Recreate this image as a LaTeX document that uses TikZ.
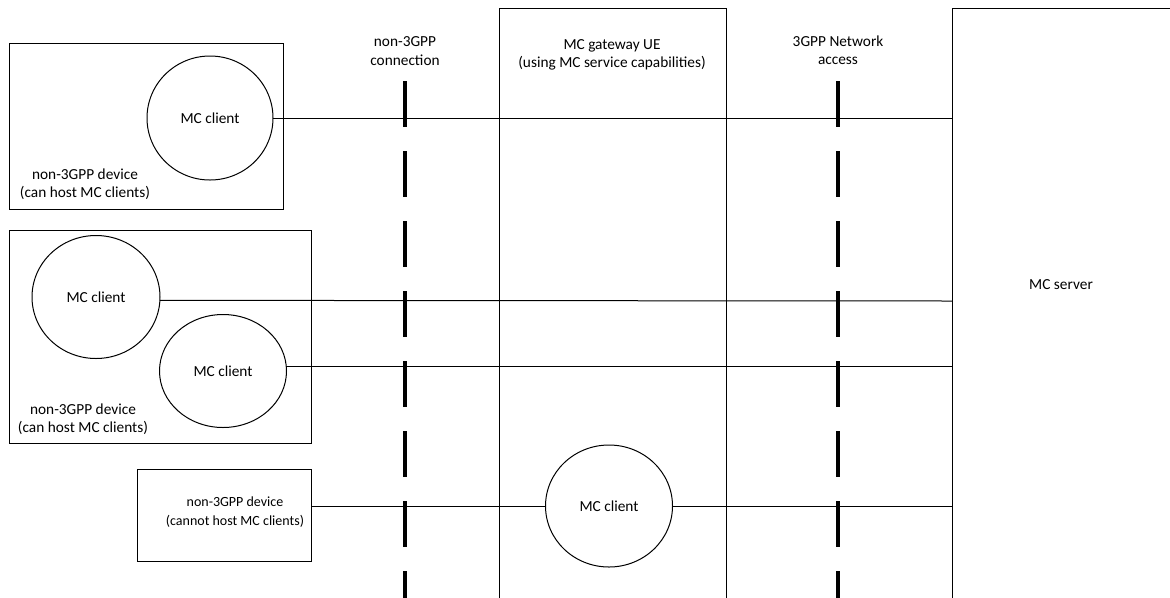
\documentclass[tikz,border=0pt]{standalone}
\usepackage{fontspec}
\setmainfont{Carlito}
\usetikzlibrary{shapes.geometric}
\begin{document}
\begin{tikzpicture}[x=0.75pt,y=-0.75pt,
  box/.style={draw, line width=0.75pt, inner sep=0, outer sep=0},
  client/.style={draw, ellipse, line width=0.75pt, inner sep=0, outer sep=0, font=\fontsize{11.5}{13.5}\selectfont},
  lbl/.style={align=center, font=\fontsize{11.5}{13.8}\selectfont, inner sep=0},
  link/.style={line width=0.75pt},
  iface/.style={line width=2.4pt, dash pattern=on 34.5pt off 18pt}]
\useasboundingbox (0,0) rectangle (1170,597);
\clip (0,0) rectangle (1170,597);

% boxes
\node[box, minimum width=205.5pt, minimum height=124.5pt] (dev1) at (146,126) {};
\node[box, minimum width=226.5pt, minimum height=159.75pt] (dev2) at (160,336.5) {};
\node[box, minimum width=130.5pt, minimum height=69pt] (dev3) at (224,515) {};
\node[box, minimum width=170.25pt, minimum height=459pt] (gw) at (612.5,314) {};
\node[box, minimum width=186pt, minimum height=459pt] (server) at (1076,314) {};

% clients
\node[client, minimum width=94.5pt, minimum height=93pt] (c1) at (210,118) {MC client};
\node[client, minimum width=96pt, minimum height=92.25pt] (c2) at (96,297) {MC client};
\node[client, minimum width=95.25pt, minimum height=84.75pt] (c3) at (223,371) {MC client};
\node[client, minimum width=95.25pt, minimum height=91.5pt] (c4) at (609,506) {MC client};

% labels
\node[lbl] (l1) at (85,184) {non-3GPP device\\(can host MC clients)};
\node[lbl] (l2) at (83,419) {non-3GPP device\\(can host MC clients)};
\node[lbl, font=\fontsize{10.5}{14}\selectfont] (l3) at (235,512) {non-3GPP device\\(cannot host MC clients)};
\node[lbl] (lgw) at (612,55) {MC gateway UE\\(using MC service capabilities)};
\node[lbl] (lsrv) at (1061,285) {MC server};
\node[lbl] (lnon) at (405,51) {non-3GPP\\connection};
\node[lbl] (l3gpp) at (838,50) {3GPP Network\\access};

% interface lines
\coordinate (i1t) at (405,81);
\coordinate (i1b) at (405,640);
\coordinate (i2t) at (838,81);
\coordinate (i2b) at (838,640);
\draw[iface] (i1t) -- (i1b);
\draw[iface] (i2t) -- (i2b);

% connections
\coordinate (s2) at (952,301);
\draw[link] (c1.east) -- (c1.east -| server.west);
\draw[link] (c2.-3) -- (s2);
\draw[link] (c3.4) -- (c3.4 -| server.west);
\draw[link] (c4.west -| dev3.east) -- (c4.west);
\draw[link] (c4.east) -- (c4.east -| server.west);
\end{tikzpicture}
\end{document}
